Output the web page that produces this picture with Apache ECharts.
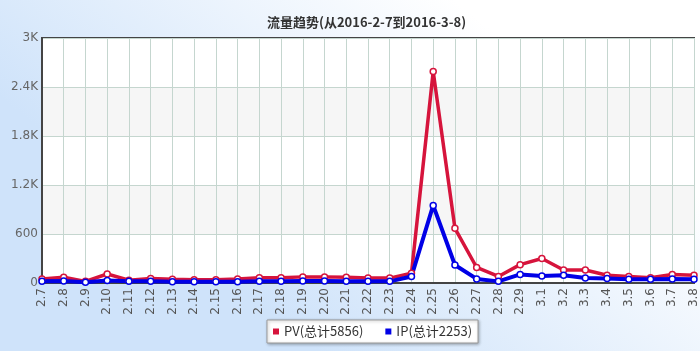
<!DOCTYPE html>
<html>
<head>
    <meta charset="UTF-8">
    <title>流量趋势</title>
    <style>
        *{
            margin: 0;
            padding: 0;
        }
        .container{
            width: 700px;
            height: 351px;
        }
    </style>
    <script src="https://cdn.jsdelivr.net/npm/echarts@6/dist/echarts.min.js"></script>
</head>
<body>
<div class="container"></div>
<script>
    // 日期
    let days=['2.7','2.8','2.9','2.10','2.11','2.12','2.13','2.14','2.15','2.16','2.17','2.18','2.19','2.20','2.21','2.22','2.23','2.24','2.25','2.26','2.27','2.28','2.29','3.1','3.2','3.3','3.4','3.5','3.6','3.7','3.8']
    let pv=[50,70,20,110,35,55,45,40,40,50,65,65,75,75,70,60,60,120,2590,670,190,80,225,300,160,160,95,80,65,105,95]
    let ip=[20,25,10,30,20,20,15,15,15,15,20,20,25,25,20,20,20,80,950,220,50,20,105,85,95,60,55,45,45,50,45]
    let pvTotal=5856
    let ipTotal=2253
    let pvName='PV(总计'+pvTotal+')'
    let ipName='IP(总计'+ipTotal+')'

    let container=document.querySelector('.container')
    let mychart=echarts.init(container)

    let option={
        backgroundColor: new echarts.graphic.LinearGradient(0.7, 0, 0.3, 1, [{
            offset: 0.05,
            color: '#ffffff'
        }, {
            offset: 0.85,
            color: '#cfe3fa'
        }]),
        title: {
            text: '流量趋势(从2016-2-7到2016-3-8)',
            left: 262,
            top: 11,
            textStyle: {
                fontFamily: 'Noto Sans CJK SC',
                fontSize: 13,
                fontWeight: 'bold',
                color: '#333'
            }
        },
        legend: {
            bottom: 8,
            left: 267,
            data: [
                { name: pvName, itemStyle: { color: '#d6143c', borderWidth: 0 } },
                { name: ipName, itemStyle: { color: '#0000e6', borderWidth: 0 } }
            ],
            icon: 'rect',
            itemWidth: 6,
            itemHeight: 6,
            itemGap: 22,
            padding: [5, 6],
            backgroundColor: '#fff',
            borderColor: '#999',
            borderWidth: 1,
            shadowColor: 'rgba(0,0,0,0.3)',
            shadowBlur: 3,
            shadowOffsetX: 1,
            shadowOffsetY: 1,
            textStyle: {
                fontFamily: 'Noto Sans CJK SC',
                fontSize: 13,
                color: '#333'
            }
        },
        grid: {
            left: 42,
            right: 6,
            top: 38,
            bottom: 68,
            show: true,
            backgroundColor: '#fff',
            borderColor: '#444',
            borderWidth: 2
        },
        xAxis: {
            type: 'category',
            data: days,
            boundaryGap: false,
            axisLine: { lineStyle: { color: '#444', width: 2 } },
            axisTick: { show: false },
            axisLabel: {
                rotate: 90,
                interval: 0,
                color: '#555',
                fontSize: 12,
                fontFamily: 'Verdana, DejaVu Sans',
                margin: 5
            },
            splitLine: {
                show: true,
                lineStyle: { color: '#c5d6cf' }
            }
        },
        yAxis: {
            type: 'value',
            min: 0,
            max: 3000,
            interval: 600,
            axisLine: { show: true, lineStyle: { color: '#444', width: 2 } },
            axisTick: { show: false },
            axisLabel: {
                color: '#666',
                fontSize: 12,
                fontFamily: 'Verdana, DejaVu Sans',
                margin: 4,
                formatter: function (v) {
                    if (v >= 1000) return (v / 1000) + 'K'
                    return v
                }
            },
            splitLine: {
                lineStyle: { color: '#c5d6cf' }
            },
            splitArea: {
                show: true,
                areaStyle: { color: ['#ffffff', '#f6f6f6'] }
            }
        },
        series: [{
            name: pvName,
            type: 'line',
            data: pv,
            symbol: 'circle',
            symbolSize: 6,
            color: '#d6143c',
            lineStyle: { width: 3.5, color: '#d6143c' },
            itemStyle: { color: '#fff', borderColor: '#d6143c', borderWidth: 1.5 }
        }, {
            name: ipName,
            type: 'line',
            data: ip,
            symbol: 'circle',
            symbolSize: 6,
            color: '#0000e6',
            lineStyle: { width: 4, color: '#0000e6' },
            itemStyle: { color: '#fff', borderColor: '#0000e6', borderWidth: 1.5 }
        }]
    }
    mychart.setOption(option)
</script>
</body>
</html>
